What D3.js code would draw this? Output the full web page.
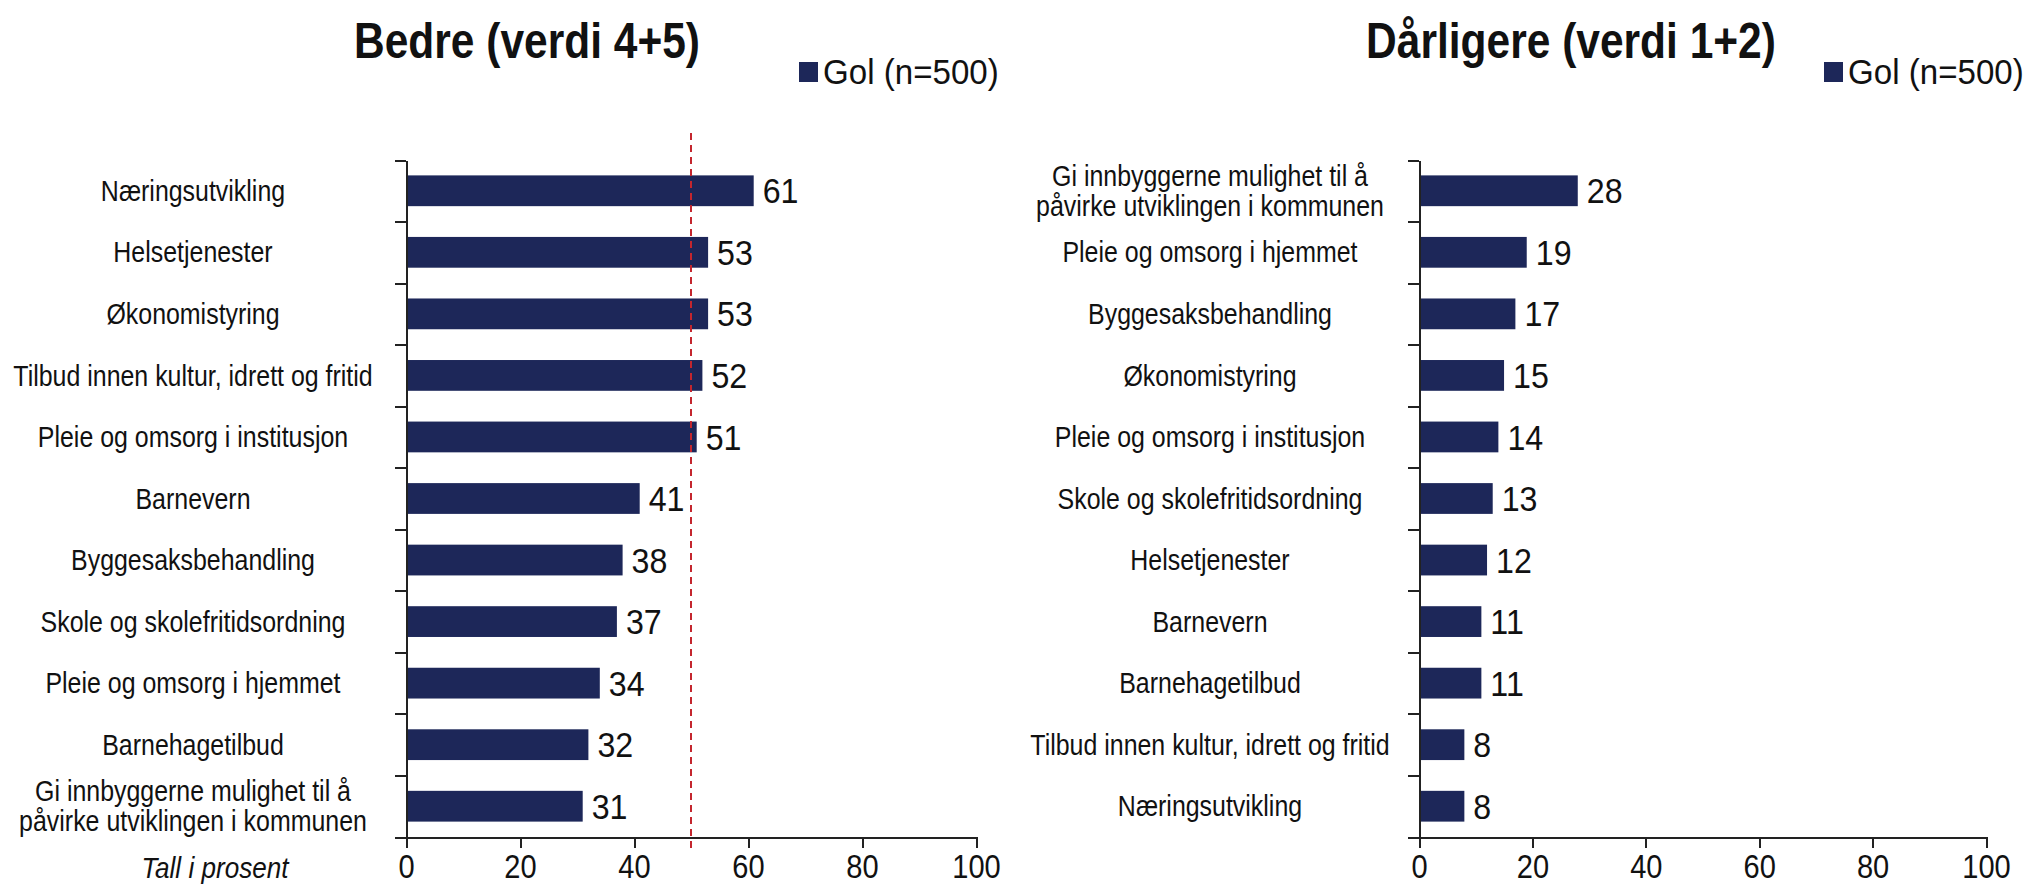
<!DOCTYPE html>
<html lang="no">
<head>
<meta charset="utf-8">
<title>Bedre / Dårligere</title>
<script src="https://cdn.jsdelivr.net/npm/d3@7"></script>
<style>
    body { margin: 0; background: #fff; }
    svg text { font-family: "Liberation Sans", Arial, sans-serif; fill: #111; }
    .axis path, .axis line { stroke: #222; stroke-width: 2; shape-rendering: crispEdges; }
    .axis text { font-size: 33px; fill: #111; }
</style>
</head>
<body>
<script>
// data
var leftCats = ["Næringsutvikling", "Helsetjenester", "Økonomistyring",
    "Tilbud innen kultur, idrett og fritid", "Pleie og omsorg i institusjon",
    "Barnevern", "Byggesaksbehandling", "Skole og skolefritidsordning",
    "Pleie og omsorg i hjemmet", "Barnehagetilbud",
    "Gi innbyggerne mulighet til å\npåvirke utviklingen i kommunen"];
var leftVals = [61, 53, 53, 52, 51, 41, 38, 37, 34, 32, 31];

var rightCats = ["Gi innbyggerne mulighet til å\npåvirke utviklingen i kommunen",
    "Pleie og omsorg i hjemmet", "Byggesaksbehandling", "Økonomistyring",
    "Pleie og omsorg i institusjon", "Skole og skolefritidsordning",
    "Helsetjenester", "Barnevern", "Barnehagetilbud",
    "Tilbud innen kultur, idrett og fritid", "Næringsutvikling"];
var rightVals = [28, 19, 17, 15, 14, 13, 12, 11, 11, 8, 8];

var xTicks = [0, 20, 40, 60, 80, 100];
var refLine = 50;   // red dashed line on the left chart
var legendLabel = "Gol (n=500)";
var barColor = "#1d2759";

var svg = d3.select("body").append("svg")
    .attr("width", 2044)
    .attr("height", 889);

// the source font is narrower than Arial, squeeze text sideways
function placeText(x, y, sx) {
    return "translate(" + x + "," + y + ") scale(" + sx + ",1)";
}

// one panel: bars, axes, labels
function drawPanel(opt) {
    var x = d3.scaleLinear().domain([0, 100]).range([opt.x0, opt.x1]);
    var y = d3.scaleBand().domain(d3.range(opt.cats.length))
        .range([160, 837]).paddingInner(0.5).paddingOuter(0.25);
    var yEdge = d3.scaleLinear().domain([0, opt.cats.length]).range([160, 837]);

    // title
    svg.append("text")
        .attr("transform", placeText(opt.titleX, 58, 0.85))
        .attr("text-anchor", "middle")
        .style("font-size", "50px").style("font-weight", "bold")
        .text(opt.title);

    // legend
    svg.append("rect")
        .attr("x", opt.legendX).attr("y", 62)
        .attr("width", 19).attr("height", 20)
        .style("fill", barColor);
    svg.append("text")
        .attr("transform", placeText(opt.legendX + 24, 84, 0.92))
        .style("font-size", "36px")
        .text(legendLabel);

    // bars
    svg.selectAll(null)
        .data(opt.vals)
        .enter().append("rect")
            .attr("x", x(0))
            .attr("y", function(d, i) { return y(i); })
            .attr("width", function(d) { return x(d) - x(0); })
            .attr("height", y.bandwidth())
            .style("fill", barColor);

    // value labels
    svg.selectAll(null)
        .data(opt.vals)
        .enter().append("text")
            .attr("transform", function(d, i) {
                return placeText(x(d) + 9, y(i) + y.bandwidth() / 2, 0.92);
            })
            .attr("dy", "0.36em")
            .style("font-size", "35px")
            .text(function(d) { return d; });

    // category labels (may be two lines)
    var lab = svg.selectAll(null)
        .data(opt.cats)
        .enter().append("text")
            .attr("text-anchor", "middle")
            .style("font-size", "29px")
            .attr("transform", function(d, i) {
                return placeText(opt.labelX, y(i) + y.bandwidth() / 2, 0.86);
            });
    lab.each(function(d) {
        var lines = d.split("\n");
        var t = d3.select(this);
        lines.forEach(function(l, k) {
            t.append("tspan")
                .attr("x", 0)
                .attr("y", (k - (lines.length - 1) / 2) * 30)
                .attr("dy", "0.35em")
                .text(l);
        });
    });

    // x axis
    var xAxis = d3.axisBottom(x).tickValues(xTicks).tickSize(11).tickPadding(7).tickSizeOuter(0);
    var gx = svg.append("g")
        .attr("class", "axis")
        .attr("transform", "translate(0,837)")
        .call(xAxis);
    gx.selectAll(".tick text").attr("transform", "scale(0.88,1)");

    // y axis: ticks on the band edges
    var yAxis = d3.axisLeft(yEdge).tickValues(d3.range(opt.cats.length + 1))
        .tickFormat("").tickSize(11).tickSizeOuter(0);
    svg.append("g")
        .attr("class", "axis")
        .attr("transform", "translate(" + x(0) + ",0)")
        .call(yAxis);

    if (opt.ref != null) {
        svg.append("line")
            .attr("x1", x(opt.ref)).attr("x2", x(opt.ref))
            .attr("y1", 133).attr("y2", 849)
            .style("stroke", "#c4262e")
            .style("stroke-width", 2)
            .style("stroke-dasharray", "7,5");
    }
}

drawPanel({
    cats: leftCats, vals: leftVals, x0: 406, x1: 976,
    title: "Bedre (verdi 4+5)", titleX: 527, legendX: 799, labelX: 193, ref: refLine
});
drawPanel({
    cats: rightCats, vals: rightVals, x0: 1419, x1: 1986,
    title: "Dårligere (verdi 1+2)", titleX: 1571, legendX: 1824, labelX: 1210, ref: null
});

svg.append("text")
    .attr("transform", placeText(215, 878, 0.9))
    .attr("text-anchor", "middle")
    .style("font-size", "29px").style("font-style", "italic")
    .text("Tall i prosent");
</script>
</body>
</html>
